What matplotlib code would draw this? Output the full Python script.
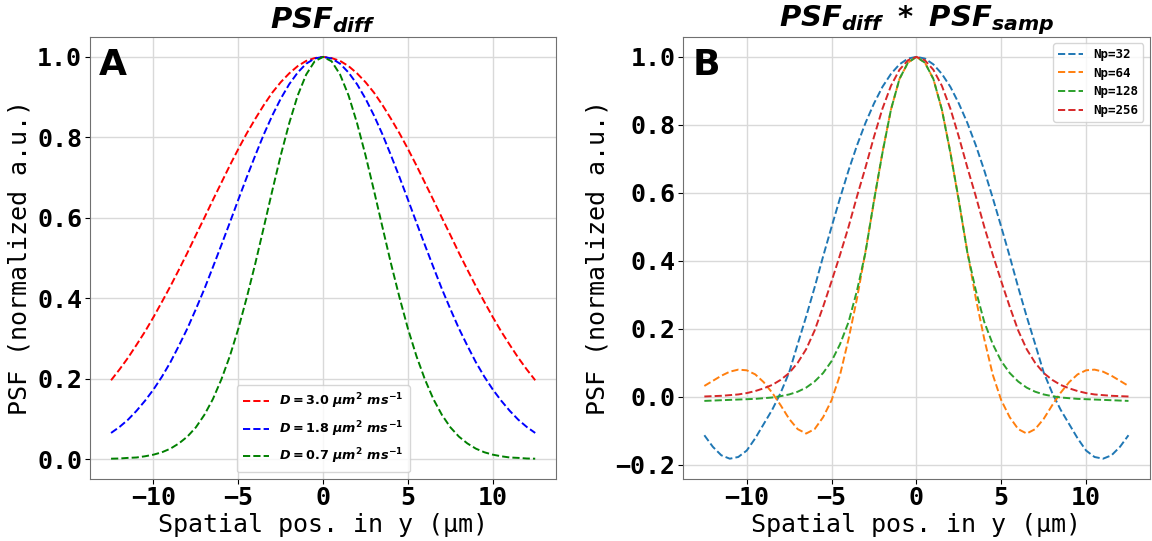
import numpy as np
import matplotlib
matplotlib.use("Agg")
import matplotlib.pyplot as plt

plt.rcParams['mathtext.fontset'] = 'custom'
plt.rcParams['mathtext.it'] = 'DejaVu Sans:italic:bold'
plt.rcParams['mathtext.rm'] = 'DejaVu Sans:bold'
plt.rcParams['mathtext.bf'] = 'DejaVu Sans:italic:bold'

# spatial positions (um), 0.5 um steps from -12.5 to 12.5
y_pos = np.linspace(-12.5, 12.5, 51)

# panel A: diffusion PSF for three diffusivities
d_labels = [r'$D = 3.0\ \mu m^2\ ms^{-1}$',
            r'$D = 1.8\ \mu m^2\ ms^{-1}$',
            r'$D = 0.7\ \mu m^2\ ms^{-1}$']
psf_d30 = [0.196, 0.223, 0.252, 0.284, 0.317, 0.353, 0.391, 0.430, 0.471, 0.513, 0.557, 0.600, 0.644,
           0.687, 0.730, 0.771, 0.810, 0.846, 0.880, 0.911, 0.937, 0.959, 0.977, 0.990, 0.997, 1.000,
           0.997, 0.990, 0.977, 0.959, 0.937, 0.911, 0.880, 0.846, 0.810, 0.771, 0.730, 0.687, 0.644,
           0.600, 0.557, 0.513, 0.471, 0.430, 0.391, 0.353, 0.317, 0.284, 0.252, 0.223, 0.196]
psf_d18 = [0.065, 0.080, 0.098, 0.120, 0.145, 0.173, 0.205, 0.241, 0.282, 0.325, 0.373, 0.423, 0.477,
           0.532, 0.588, 0.645, 0.701, 0.755, 0.807, 0.854, 0.896, 0.932, 0.961, 0.983, 0.996, 1.000,
           0.996, 0.983, 0.961, 0.932, 0.896, 0.854, 0.807, 0.755, 0.701, 0.645, 0.588, 0.532, 0.477,
           0.423, 0.373, 0.325, 0.282, 0.241, 0.205, 0.173, 0.145, 0.120, 0.098, 0.080, 0.065]
psf_d07 = [0.001, 0.0015, 0.003, 0.004, 0.007, 0.011, 0.017, 0.026, 0.039, 0.056, 0.079, 0.110, 0.149,
           0.198, 0.256, 0.324, 0.402, 0.486, 0.576, 0.667, 0.755, 0.835, 0.904, 0.956, 0.989, 1.000,
           0.989, 0.956, 0.904, 0.835, 0.755, 0.667, 0.576, 0.486, 0.402, 0.324, 0.256, 0.198, 0.149,
           0.110, 0.079, 0.056, 0.039, 0.026, 0.017, 0.011, 0.007, 0.004, 0.003, 0.0015, 0.001]

# panel B: diffusion PSF convolved with sampling PSF
np_labels = ['Np=32', 'Np=64', 'Np=128', 'Np=256']
psf_np32 = [-0.113, -0.147, -0.172, -0.182, -0.177, -0.158, -0.122, -0.080, -0.038, 0.012, 0.072, 0.155,
            0.236, 0.322, 0.413, 0.500, 0.585, 0.666, 0.740, 0.806, 0.863, 0.912, 0.950, 0.978, 0.995,
            1.000, 0.995, 0.978, 0.950, 0.912, 0.863, 0.806, 0.740, 0.666, 0.585, 0.500, 0.413, 0.322,
            0.236, 0.155, 0.072, 0.012, -0.038, -0.080, -0.122, -0.158, -0.177, -0.182, -0.172, -0.147,
            -0.113]
psf_np64 = [0.032, 0.047, 0.062, 0.074, 0.080, 0.078, 0.066, 0.043, 0.012, -0.025, -0.065, -0.095,
            -0.108, -0.095, -0.060, -0.010, 0.065, 0.170, 0.290, 0.428, 0.575, 0.720, 0.845, 0.935, 0.983,
            1.000, 0.983, 0.935, 0.845, 0.720, 0.575, 0.428, 0.290, 0.170, 0.065, -0.010, -0.060, -0.095,
            -0.108, -0.095, -0.065, -0.025, 0.012, 0.043, 0.066, 0.078, 0.080, 0.074, 0.062, 0.047, 0.032]
psf_np128 = [-0.012, -0.011, -0.010, -0.009, -0.008, -0.007, -0.006, -0.004, -0.002, 0.002, 0.007, 0.015,
             0.027, 0.045, 0.070, 0.105, 0.155, 0.220, 0.313, 0.425, 0.578, 0.718, 0.845, 0.935, 0.983,
             1.000, 0.983, 0.935, 0.845, 0.718, 0.578, 0.425, 0.313, 0.220, 0.155, 0.105, 0.070, 0.045,
             0.027, 0.015, 0.007, 0.002, -0.002, -0.004, -0.006, -0.007, -0.008, -0.009, -0.010, -0.011,
             -0.012]
psf_np256 = [0.001, 0.002, 0.003, 0.005, 0.007, 0.011, 0.017, 0.025, 0.035, 0.050, 0.070, 0.100, 0.140,
             0.195, 0.265, 0.340, 0.418, 0.500, 0.590, 0.675, 0.765, 0.848, 0.915, 0.962, 0.990, 1.000,
             0.990, 0.962, 0.915, 0.848, 0.765, 0.675, 0.590, 0.500, 0.418, 0.340, 0.265, 0.195, 0.140,
             0.100, 0.070, 0.050, 0.035, 0.025, 0.017, 0.011, 0.007, 0.005, 0.003, 0.002, 0.001]

fig = plt.figure(figsize=(11.52, 5.41), dpi=100)
ax_a = fig.add_axes([0.078, 0.115, 0.405, 0.817])
ax_b = fig.add_axes([0.593, 0.115, 0.405, 0.817])

mono = {'family': 'DejaVu Sans Mono', 'size': 18}


def style_axes(ax, letter, title):
    ax.grid(True, color='#d9d9d9', linewidth=1)
    ax.set_axisbelow(True)
    for sp in ax.spines.values():
        sp.set_color('#707070')
    ax.set_xlabel('Spatial pos. in y (\u00b5m)', fontdict=mono, labelpad=2)
    ax.set_ylabel('PSF (normalized a.u.)', fontdict=mono, labelpad=4)
    for lab in ax.get_xticklabels() + ax.get_yticklabels():
        lab.set_fontfamily('DejaVu Sans Mono')
        lab.set_fontweight('bold')
        lab.set_fontsize(18)
    ax.tick_params(pad=2)
    ax.text(0.02, 0.975, letter, transform=ax.transAxes, va='top', ha='left',
            fontsize=26, fontweight='bold', family='DejaVu Sans')
    ax.set_title(title, fontsize=21, pad=6)


# panel A
for vals, col, lab in zip([psf_d30, psf_d18, psf_d07], ['red', 'blue', 'green'], d_labels):
    ax_a.plot(y_pos, vals, '--', color=col, linewidth=1.4, label=lab)
ax_a.set_xticks([-10, -5, 0, 5, 10])
ax_a.set_xticklabels(['\u221210', '\u22125', '0', '5', '10'])
ax_a.set_yticks([0.0, 0.2, 0.4, 0.6, 0.8, 1.0])
ax_a.set_yticklabels(['0.0', '0.2', '0.4', '0.6', '0.8', '1.0'])
style_axes(ax_a, 'A', r'$PSF_{diff}$')
ax_a.legend(loc='lower center', fontsize=9.2, handlelength=2.0, borderpad=0.5, labelspacing=0.6)

# panel B
for vals, col, lab in zip([psf_np32, psf_np64, psf_np128, psf_np256],
                          ['tab:blue', 'tab:orange', 'tab:green', 'tab:red'], np_labels):
    ax_b.plot(y_pos, vals, '--', color=col, linewidth=1.4, label=lab)
ax_b.set_xticks([-10, -5, 0, 5, 10])
ax_b.set_xticklabels(['\u221210', '\u22125', '0', '5', '10'])
ax_b.set_yticks([-0.2, 0.0, 0.2, 0.4, 0.6, 0.8, 1.0])
ax_b.set_yticklabels(['\u22120.2', '0.0', '0.2', '0.4', '0.6', '0.8', '1.0'])
style_axes(ax_b, 'B', r'$PSF_{diff}\ *\ PSF_{samp}$')
ax_b.legend(loc='upper right', prop={'family': 'DejaVu Sans Mono', 'weight': 'bold', 'size': 9},
            handlelength=2.0, labelspacing=0.45)

fig.savefig('out.png', dpi=100)
